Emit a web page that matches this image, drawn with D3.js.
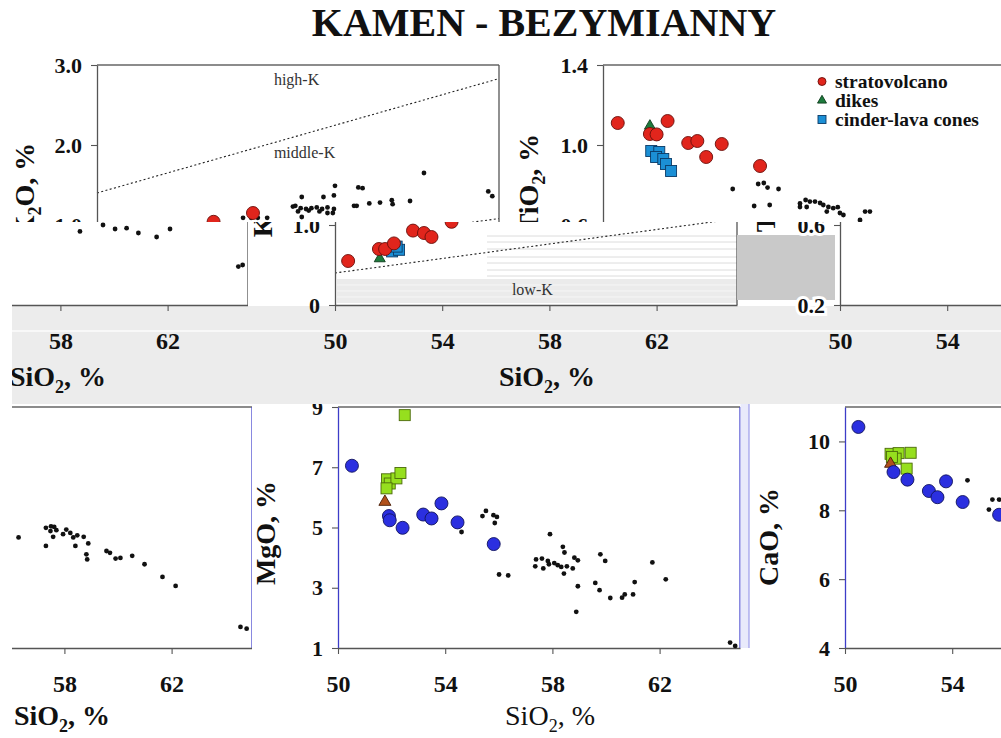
<!DOCTYPE html>
<html>
<head>
<meta charset="utf-8">
<script src="https://cdn.jsdelivr.net/npm/d3@7"></script>
<style>
  html, body { margin: 0; padding: 0; background: #fff; }
  svg { display: block; }
</style>
</head>
<body>
<svg id="fig" width="1001" height="738"></svg>
<script>
// ---------------- data ----------------
const figureTitle = "KAMEN - BEZYMIANNY";

const siO2Domain = [50, 65];
const siO2Ticks = [50, 54, 58, 62];
const siO2TickLabels = ["50", "54", "58", "62"];

// K2O vs SiO2  ([SiO2, K2O])
const k2oTicks = [0, 1, 2, 3];
const k2oTickLabels = ["0", "1.0", "2.0", "3.0"];
const k2oStrato = [[50.49, 0.55], [51.64, 0.70], [51.87, 0.70], [52.20, 0.77], [52.91, 0.93],
                   [53.32, 0.90], [53.60, 0.85], [54.35, 1.04], [55.82, 1.15]];
const k2oDikes = [[51.67, 0.58]];
const k2oCones = [[52.13, 0.67], [52.39, 0.69], [52.30, 0.73]];
const k2oBez = [[57.64, 1.35], [58.45, 1.35], [58.88, 1.49], [57.31, 1.23], [57.64, 1.10], [58.80, 1.15],
                [58.84, 1.37], [59.75, 1.47], [59.91, 1.46], [62.20, 1.65], [59.59, 1.24], [59.69, 1.24],
                [60.16, 1.27], [60.56, 1.28], [61.00, 1.31], [61.03, 1.26], [61.68, 1.30], [64.60, 1.42],
                [64.75, 1.36], [58.84, 1.20], [57.40, 1.24], [57.60, 1.21], [57.80, 1.20], [58.00, 1.21],
                [58.20, 1.22], [58.40, 1.20], [58.60, 1.22], [57.50, 1.17], [57.90, 1.18], [58.30, 1.17],
                [58.60, 1.15], [55.45, 1.09], [55.75, 1.09], [56.00, 1.09], [56.35, 1.09],
                [58.73, 0.92], [59.59, 1.00], [60.04, 0.95], [60.47, 0.96], [60.91, 0.90], [61.59, 0.85],
                [62.09, 0.95], [64.64, 0.48], [64.80, 0.50]];
// series boundaries
const highKLine = [[50, 1.40], [65, 2.83]];
const lowKLine = [[50, 0.40], [65, 1.08]];

// TiO2 vs SiO2
const tio2Ticks = [0.2, 0.6, 1.0, 1.4];
const tio2TickLabels = ["0.2", "0.6", "1.0", "1.4"];
const tio2Strato = [[50.55, 1.11], [52.41, 1.12], [51.75, 1.055], [52.00, 1.053], [53.18, 1.01],
                    [53.52, 1.02], [54.43, 1.005], [53.85, 0.94], [55.86, 0.895]];
const tio2Dikes = [[51.75, 1.095]];
const tio2Cones = [[51.80, 0.97], [52.10, 0.965], [51.98, 0.94], [52.25, 0.93], [52.35, 0.905], [52.54, 0.87]];
const tio2Bez = [[54.84, 0.78], [55.79, 0.805], [56.00, 0.81], [56.14, 0.787], [56.55, 0.78], [55.64, 0.695],
                 [56.22, 0.70], [57.35, 0.708], [57.56, 0.725], [57.72, 0.717], [57.91, 0.717], [58.10, 0.71],
                 [58.22, 0.70], [58.41, 0.69], [58.59, 0.684], [58.76, 0.689], [58.84, 0.66], [57.35, 0.69],
                 [57.60, 0.69], [58.35, 0.667], [58.97, 0.65], [59.59, 0.625], [59.78, 0.667], [59.96, 0.667]];

// MgO vs SiO2
const mgoTicks = [1, 3, 5, 7, 9];
const mgoTickLabels = ["1", "3", "5", "7", "9"];
const mgoStrato = [[50.52, 7.05], [51.90, 5.38], [51.93, 5.24], [52.41, 4.99], [53.18, 5.43],
                   [53.49, 5.30], [53.86, 5.80], [54.46, 5.17], [55.81, 4.45]];
const mgoCones = [[52.49, 8.73], [51.83, 6.60], [51.93, 6.46], [52.18, 6.63], [52.33, 6.81], [51.81, 6.30]];
const mgoDikes = [[51.75, 5.85]];
const mgoBez = [[55.39, 5.38], [55.52, 5.55], [55.80, 5.41], [55.93, 5.35], [55.85, 5.15], [54.61, 4.85],
                [56.01, 3.44], [56.35, 3.41], [57.91, 4.78], [57.39, 3.94], [57.36, 3.71], [57.61, 3.97],
                [57.66, 3.64], [57.83, 3.89], [57.87, 3.78], [58.07, 3.82], [58.20, 3.75], [58.33, 3.69],
                [58.39, 4.36], [58.45, 4.17], [58.43, 3.47], [58.54, 3.71], [58.76, 3.64], [58.82, 4.00],
                [58.95, 3.91], [58.95, 3.05], [58.89, 2.20], [59.60, 3.16], [59.76, 2.92], [59.79, 4.11],
                [59.97, 3.89], [60.16, 2.66], [60.60, 2.67], [60.70, 2.78], [61.01, 2.78], [61.07, 3.19],
                [61.73, 3.84], [62.23, 3.28], [64.63, 1.18], [64.82, 1.07]];

// CaO vs SiO2
const caoTicks = [4, 6, 8, 10];
const caoTickLabels = ["4", "6", "8", "10"];
const caoStrato = [[50.50, 10.42], [51.81, 9.11], [52.33, 8.89], [53.13, 8.56], [53.45, 8.38],
                   [53.77, 8.84], [54.39, 8.24], [55.75, 7.87]];
const caoCones = [[51.70, 9.64], [52.00, 9.66], [52.45, 9.67], [51.89, 9.50], [52.30, 9.21], [51.75, 9.55]];
const caoDikes = [[51.70, 9.35]];
const caoBez = [[54.57, 8.87], [55.50, 8.31], [55.75, 8.31], [55.37, 8.02]];

// neighbouring Bezymianny panel, right end only
const sideBez = [[56.29, 4.67], [57.31, 4.99], [57.31, 4.39], [57.50, 5.04], [57.62, 5.02], [57.48, 4.88],
                 [57.58, 4.69], [57.70, 4.91], [57.95, 4.78], [58.07, 4.93], [58.22, 4.82], [58.33, 4.67],
                 [58.48, 4.74], [58.41, 4.39], [58.72, 4.69], [58.89, 4.47], [58.82, 4.11], [58.85, 3.94],
                 [59.57, 4.22], [59.70, 4.16], [59.91, 3.97], [60.09, 3.99], [60.53, 4.06], [60.99, 3.78],
                 [61.66, 3.36], [62.15, 3.06], [64.57, 1.70], [64.80, 1.64]];

const legendItems = [["strato", "stratovolcano"], ["dikes", "dikes"], ["cones", "cinder-lava cones"]];

// ---------------- styles & layout ----------------
const W = 1001, H = 738;
const SERIF = "'Liberation Serif','Times New Roman',Times,serif";
const PANEL_W = 402;
const ROW_TOP = { top: 65, bottom: 305, titleDy: 81 };
const ROW_BOTTOM = { top: 407, bottom: 648, titleDy: 77 };

const topStyle = {
  strato: { shape: "circle", fill: "#e1251c", stroke: "#6a0f0a", size: 13 },
  dikes:  { shape: "triangle", fill: "#1e7b3d", stroke: "#0c3a1b", size: 11 },
  cones:  { shape: "square", fill: "#1b8fd5", stroke: "#0b3a66", size: 11 },
  bez:    { shape: "circle", fill: "#111", stroke: "none", size: 4.8 }
};
const bottomStyle = {
  strato: { shape: "circle", fill: "#2b2fe0", stroke: "#12145e", size: 13 },
  cones:  { shape: "square", fill: "#96df1e", stroke: "#4b690a", size: 11 },
  dikes:  { shape: "triangle", fill: "#b0501c", stroke: "#4a1d06", size: 12 },
  bez:    { shape: "circle", fill: "#111", stroke: "none", size: 4.8 }
};
const topFrame = { top: "#666", right: "#555", left: "#555", bottom: "#555" };
const bottomFrame = { top: "#666", right: "#4a4ad0", left: "#3d3dc8", bottom: "#555" };

const sio2Title = [["SiO"], ["2", true], [", %"]];

const k2oSpec = {
  domain: [0, 3], ticks: k2oTicks, labels: k2oTickLabels,
  title: [["K"], ["2", true], ["O, %"]], titleDx: 63, titleCy: 190,
  marks: [["bez", k2oBez], ["dikes", k2oDikes], ["cones", k2oCones], ["strato", k2oStrato]],
  guides: [highKLine, lowKLine],
  notes: [["high-K", 56.6, 2.75], ["middle-K", 56.6, 1.84], ["low-K", 56.6, 0.125]]
};
const tio2Spec = {
  domain: [0.2, 1.4], ticks: tio2Ticks, labels: tio2TickLabels,
  title: [["TiO"], ["2", true], [", %"]], titleDx: 65, titleCy: 183,
  marks: [["bez", tio2Bez], ["dikes", tio2Dikes], ["cones", tio2Cones], ["strato", tio2Strato]]
};
const mgoSpec = {
  domain: [1, 9], ticks: mgoTicks, labels: mgoTickLabels,
  title: [["MgO, %"]], titleDx: 63, titleCy: 533,
  marks: [["bez", mgoBez], ["cones", mgoCones], ["dikes", mgoDikes], ["strato", mgoStrato]]
};
const caoSpec = {
  domain: [4, 11], ticks: caoTicks, labels: caoTickLabels,
  title: [["CaO, %"]], titleDx: 67, titleCy: 537,
  marks: [["bez", caoBez], ["cones", caoCones], ["dikes", caoDikes], ["strato", caoStrato]]
};
const sideSpec = {
  domain: [1, 9], ticks: [], labels: [],
  marks: [["bez", sideBez]]
};

// ---------------- drawing helpers ----------------
const svg = d3.select("#fig");
const defs = svg.append("defs");
function clip(id, r) {
  defs.append("clipPath").attr("id", id)
    .append("rect").attr("x", r[0]).attr("y", r[1]).attr("width", r[2]).attr("height", r[3]);
  return `url(#${id})`;
}

function addParts(t, parts) {
  let shifted = false;
  parts.forEach(p => {
    const ts = t.append("tspan").text(p[0]);
    if (p[1]) { ts.attr("font-size", 18).attr("dy", 7); shifted = true; }
    else if (shifted) { ts.attr("dy", -7); shifted = false; }
  });
}
function rotatedTitle(g, parts, bx, cy) {
  const t = g.append("text")
    .attr("transform", `translate(${bx},${cy}) rotate(-90)`)
    .attr("text-anchor", "middle")
    .attr("font-family", SERIF).attr("font-size", 28).attr("font-weight", "bold")
    .attr("fill", "#111");
  addParts(t, parts);
}
function flatTitle(g, parts, cx, by, weight) {
  const t = g.append("text")
    .attr("x", cx).attr("y", by)
    .attr("text-anchor", "middle")
    .attr("font-family", SERIF).attr("font-size", 28).attr("font-weight", weight)
    .attr("fill", "#111");
  addParts(t, parts);
}

function drawMark(g, style, cx, cy, size) {
  const s = size || style.size;
  if (style.shape === "circle") {
    g.append("circle").attr("cx", cx).attr("cy", cy).attr("r", s / 2)
      .attr("fill", style.fill).attr("stroke", style.stroke).attr("stroke-width", 0.9);
  } else if (style.shape === "square") {
    g.append("rect").attr("x", cx - s / 2).attr("y", cy - s / 2).attr("width", s).attr("height", s)
      .attr("fill", style.fill).attr("stroke", style.stroke).attr("stroke-width", 0.9);
  } else {
    const area = Math.sqrt(3) / 4 * s * s;
    g.append("path").attr("d", d3.symbol().type(d3.symbolTriangle).size(area)())
      .attr("transform", `translate(${cx},${cy})`)
      .attr("fill", style.fill).attr("stroke", style.stroke).attr("stroke-width", 0.9);
  }
}

function styleAxis(a, fontSize, color, halo) {
  a.attr("font-family", SERIF).attr("font-size", fontSize).attr("font-weight", "bold");
  a.select(".domain").attr("stroke", color).attr("stroke-width", 1.3);
  a.selectAll(".tick line").attr("stroke", "#555").attr("stroke-width", 1.1);
  const txt = a.selectAll(".tick text").attr("fill", "#111");
  if (halo) txt.attr("stroke", "#fff").attr("stroke-width", 6).attr("paint-order", "stroke");
}

// drop texts that fall wholly outside the window a panel copy is shown through
function pruneHidden(g, view) {
  if (!view) return;
  const [vx, vy, vw, vh] = view;
  g.selectAll("text").each(function () {
    const b = this.getBoundingClientRect();
    const outside = b.right <= vx || b.left >= vx + vw || b.bottom <= vy || b.top >= vy + vh;
    if (outside) this.remove();
  });
}

function drawPanel(parent, spec, x0, row, opt) {
  const g = parent.append("g");
  if (opt.view) g.attr("clip-path", clip(opt.id, opt.view));
  const x = d3.scaleLinear().domain(siO2Domain).range([x0, x0 + PANEL_W]);
  const y = d3.scaleLinear().domain(spec.domain).range([row.bottom, row.top]);

  g.append("rect").attr("x", x0).attr("y", row.top)
    .attr("width", PANEL_W).attr("height", row.bottom - row.top).attr("fill", "#fff");
  if (opt.under) opt.under(g);

  if (!opt.plain) {
    (spec.guides || []).forEach(line => {
      g.append("path").datum(line)
        .attr("d", d3.line().x(d => x(d[0])).y(d => y(d[1])))
        .attr("fill", "none").attr("stroke", "#222").attr("stroke-width", 1.1)
        .attr("stroke-dasharray", "2,2.4");
    });
    (spec.notes || []).forEach(n => {
      g.append("text").attr("x", x(n[1])).attr("y", y(n[2])).text(n[0])
        .attr("font-family", SERIF).attr("font-size", 16).attr("fill", "#333");
    });
  }

  const f = opt.frame;
  g.append("line").attr("x1", x0).attr("x2", x0 + PANEL_W).attr("y1", row.top).attr("y2", row.top)
    .attr("stroke", f.top).attr("stroke-width", 1.3);
  g.append("line").attr("x1", x0 + PANEL_W).attr("x2", x0 + PANEL_W).attr("y1", row.top).attr("y2", row.bottom)
    .attr("stroke", f.right).attr("stroke-width", 1.3);

  const ya = g.append("g").attr("transform", `translate(${x0},0)`)
    .call(d3.axisLeft(y).tickValues(spec.ticks).tickFormat((d, i) => spec.labels[i])
      .tickSize(6).tickSizeOuter(0).tickPadding(9));
  styleAxis(ya, 22, f.left, opt.halo);
  const xa = g.append("g").attr("transform", `translate(0,${row.bottom})`)
    .call(d3.axisBottom(x).tickValues(siO2Ticks).tickFormat((d, i) => siO2TickLabels[i])
      .tickSize(6).tickSizeOuter(0).tickPadding(21));
  styleAxis(xa, 24, f.bottom, false);

  const mg = g.append("g");
  if (opt.pointView) mg.attr("clip-path", clip(opt.id + "-pts", opt.pointView));
  spec.marks.forEach(([key, data]) => {
    const st = opt.style[key];
    const layer = mg.append("g");
    data.forEach(d => drawMark(layer, st, x(d[0]), y(d[1])));
  });

  if (spec.title) rotatedTitle(g, spec.title, x0 - spec.titleDx, spec.titleCy);
  flatTitle(g, sio2Title, x0 + 212, row.bottom + row.titleDy, opt.xTitleWeight || "bold");

  if (opt.legend) {
    const lg = g.append("g");
    legendItems.forEach(([key, name], i) => {
      const by = 87.5 + i * 19;
      drawMark(lg, opt.style[key], x0 + 219, by - 6, key === "dikes" ? 9 : 8);
      lg.append("text").attr("x", x0 + 232).attr("y", by).text(name)
        .attr("font-family", SERIF).attr("font-size", 19.5).attr("font-weight", "bold").attr("fill", "#111");
    });
  }
  pruneHidden(g, opt.view);
  return g;
}

// ---------------- figure ----------------
svg.append("rect").attr("width", W).attr("height", H).attr("fill", "#fff");

svg.append("text").attr("x", 544).attr("y", 36).attr("text-anchor", "middle")
  .attr("font-family", SERIF).attr("font-size", 40).attr("font-weight", "bold").attr("fill", "#111")
  .text(figureTitle);

// upper band of the top row
const topBand = svg.append("g");
drawPanel(topBand, k2oSpec, 97, ROW_TOP,
  { id: "c-top-k", view: [0, 0, 500, 222], style: topStyle, frame: topFrame });
drawPanel(topBand, tio2Spec, 603, ROW_TOP,
  { id: "c-top-t", view: [500, 0, 501, 222], style: topStyle, frame: topFrame, legend: true });

// lower band of the top row, offset sideways
const strip = svg.append("g");
strip.append("rect").attr("x", 0).attr("y", 222).attr("width", W).attr("height", 84).attr("fill", "#fff");
strip.append("rect").attr("x", 12).attr("y", 306).attr("width", W - 12).attr("height", 98).attr("fill", "#ececec");
strip.append("line").attr("x1", 12).attr("x2", W).attr("y1", 331).attr("y2", 331)
  .attr("stroke", "#f8f8f8").attr("stroke-width", 2);

drawPanel(strip, k2oSpec, -154, ROW_TOP, {
  id: "c-strip-l", view: [12, 222, 236, 182], style: topStyle, frame: topFrame, plain: true
});
drawPanel(strip, k2oSpec, 335, ROW_TOP, {
  id: "c-strip-m", view: [248, 222, 491, 182], pointView: [248, 222, 227, 84],
  style: topStyle, frame: topFrame,
  under: g => {
    g.append("rect").attr("x", 337).attr("y", 279).attr("width", 400).attr("height", 24).attr("fill", "#ebebeb");
    [236, 242, 249, 257, 263, 270, 276].forEach(yy =>
      g.append("line").attr("x1", 487).attr("x2", 737).attr("y1", yy).attr("y2", yy)
        .attr("stroke", "#dcdcdc").attr("stroke-width", 1));
    [285, 291, 297].forEach(yy =>
      g.append("line").attr("x1", 337).attr("x2", 737).attr("y1", yy).attr("y2", yy)
        .attr("stroke", "#f6f6f6").attr("stroke-width", 1));
  }
});
strip.append("rect").attr("x", 737).attr("y", 235).attr("width", 98).attr("height", 65).attr("fill", "#c9c9c9");
drawPanel(strip, tio2Spec, 840, ROW_TOP, {
  id: "c-strip-r", view: [737, 222, 264, 182], style: topStyle, frame: topFrame, halo: true
});

// bottom row
const bottomRow = svg.append("g");
bottomRow.append("rect").attr("x", 0).attr("y", 404).attr("width", W).attr("height", 334).attr("fill", "#fff");
drawPanel(bottomRow, sideSpec, -150, ROW_BOTTOM, {
  id: "c-bot-l", view: [12, 404, 240, 334], style: bottomStyle, frame: bottomFrame
});
drawPanel(bottomRow, mgoSpec, 338, ROW_BOTTOM, {
  id: "c-bot-m", view: [252, 404, 496, 334], style: bottomStyle, frame: bottomFrame, xTitleWeight: "normal"
});
bottomRow.append("rect").attr("x", 740.5).attr("y", 404).attr("width", 8.5).attr("height", 244).attr("fill", "#e9eafb");
bottomRow.append("line").attr("x1", 749).attr("x2", 749).attr("y1", 404).attr("y2", 648)
  .attr("stroke", "#8c8ce6").attr("stroke-width", 1);
drawPanel(bottomRow, caoSpec, 845, ROW_BOTTOM, {
  id: "c-bot-r", view: [750, 404, 251, 334], style: bottomStyle, frame: bottomFrame
});
</script>
</body>
</html>
